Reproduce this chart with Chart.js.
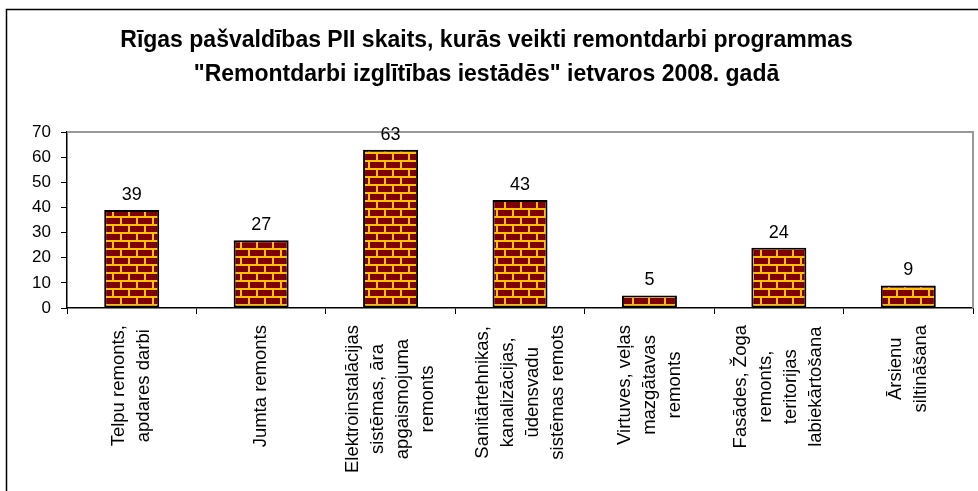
<!DOCTYPE html>
<html lang="lv">
<head>
<meta charset="UTF-8">
<title>Rīgas pašvaldības PII remontdarbi 2008</title>
<script src="https://cdn.jsdelivr.net/npm/chart.js@4.4.0/dist/chart.umd.min.js"></script>
<style>
  html, body { margin: 0; padding: 0; background: #fff; }
  #wrap { position: relative; width: 978px; height: 491px; }
</style>
</head>
<body>
<div id="wrap">
  <canvas id="chart" width="978" height="491"></canvas>
</div>
<script>
// kategorijas (rindas rotētajiem uzrakstiem)
const categories = [
  ['Telpu remonts,', 'apdares darbi'],
  ['Jumta remonts'],
  ['Elektroinstalācijas', 'sistēmas, āra', 'apgaismojuma', 'remonts'],
  ['Sanitārtehnikas,', 'kanalizācijas,', 'ūdensvadu', 'sistēmas remots'],
  ['Virtuves, veļas', 'mazgātavas', 'remonts'],
  ['Fasādes, Žoga', 'remonts,', 'teritorijas', 'labiekārtošana'],
  ['Ārsienu', 'siltināšana']
];
const counts = [39, 27, 63, 43, 5, 24, 9];
const titleLines = [
  'Rīgas pašvaldības PII skaits, kurās veikti remontdarbi programmas',
  '"Remontdarbi izglītības iestādēs" ietvaros 2008. gadā'
];
const yMin = 0, yMax = 70, yStep = 10;

const FONT = 'Arial, "Liberation Sans", sans-serif';

// ķieģeļu raksts stabiņiem
function brickPattern() {
  const c = document.createElement('canvas');
  c.width = 16; c.height = 16;
  const g = c.getContext('2d');
  g.fillStyle = '#FFC000';
  g.fillRect(0, 0, 16, 16);
  g.fillStyle = '#800000';
  g.fillRect(2, 2, 14, 6);
  g.fillRect(0, 10, 8, 6);
  g.fillRect(10, 10, 6, 6);
  return g.createPattern(c, 'repeat');
}

// ārējais rāmis un zīmēšanas laukuma apmale
const framePlugin = {
  id: 'frame',
  beforeDraw(chart) {
    const ctx = chart.ctx;
    ctx.save();
    ctx.fillStyle = '#fff';
    ctx.fillRect(0, 0, chart.width, chart.height);
    ctx.strokeStyle = '#000';
    ctx.lineWidth = 1.5;
    ctx.strokeRect(6.5, 9.5, 1200, 800);
    ctx.restore();
  },
  beforeDatasetsDraw(chart) {
    const a = chart.chartArea, ctx = chart.ctx;
    ctx.save();
    ctx.strokeStyle = '#999';
    ctx.lineWidth = 2;
    ctx.beginPath();
    ctx.moveTo(a.left, a.top);
    ctx.lineTo(a.right, a.top);
    ctx.lineTo(a.right, a.bottom);
    ctx.stroke();
    ctx.restore();
  }
};

// vērtību uzraksti virs stabiņiem un rotētie kategoriju uzraksti
const labelPlugin = {
  id: 'labels',
  afterDatasetsDraw(chart) {
    const ctx = chart.ctx;
    const meta = chart.getDatasetMeta(0);
    ctx.save();
    ctx.fillStyle = '#000';
    ctx.font = '18px ' + FONT;
    ctx.textAlign = 'center';
    ctx.textBaseline = 'middle';
    meta.data.forEach((bar, i) => {
      ctx.fillText(String(counts[i]), bar.x, bar.y - 15);
    });

    const xs = chart.scales.x;
    const top = xs.top + 17;
    const lineH = 25;
    ctx.font = '18.5px ' + FONT;
    categories.forEach((lines, i) => {
      const x = xs.getPixelForValue(i);
      const maxW = Math.max(...lines.map(l => ctx.measureText(l).width));
      ctx.save();
      ctx.translate(x, top + maxW / 2);
      ctx.rotate(-Math.PI / 2);
      lines.forEach((l, k) => {
        ctx.fillText(l, 0, (k - (lines.length - 1) / 2) * lineH);
      });
      ctx.restore();
    });
    ctx.restore();
  }
};

const ctx = document.getElementById('chart').getContext('2d');
new Chart(ctx, {
  type: 'bar',
  data: {
    labels: categories.map(c => c.join(' ')),
    datasets: [{
      data: counts,
      backgroundColor: brickPattern(),
      borderColor: '#000',
      borderWidth: 2,
      borderSkipped: false,
      barPercentage: 0.425,
      categoryPercentage: 1
    }]
  },
  options: {
    responsive: false,
    animation: false,
    layout: { padding: { left: 0, right: 5, top: 0, bottom: 0 } },
    plugins: {
      legend: { display: false },
      tooltip: { enabled: false },
      title: {
        display: true,
        text: titleLines,
        color: '#000',
        font: { family: FONT, size: 23, weight: 'bold', lineHeight: 1.48 },
        padding: { top: 24, bottom: 40 }
      }
    },
    scales: {
      x: {
        grid: { offset: true, drawOnChartArea: false, tickLength: 6, color: '#000', lineWidth: 1 },
        border: { display: true, color: '#000', width: 1.5 },
        ticks: { display: false },
        afterFit(scale) { scale.height = 491 - 308; }
      },
      y: {
        min: yMin,
        max: yMax,
        ticks: {
          stepSize: yStep,
          color: '#000',
          padding: 10,
          font: { family: FONT, size: 17 }
        },
        grid: { drawOnChartArea: false, tickLength: 6, color: '#000', lineWidth: 1 },
        border: { display: true, color: '#000', width: 1.5 },
        afterFit(scale) { scale.width = 67; }
      }
    }
  },
  plugins: [framePlugin, labelPlugin]
});
</script>
</body>
</html>
